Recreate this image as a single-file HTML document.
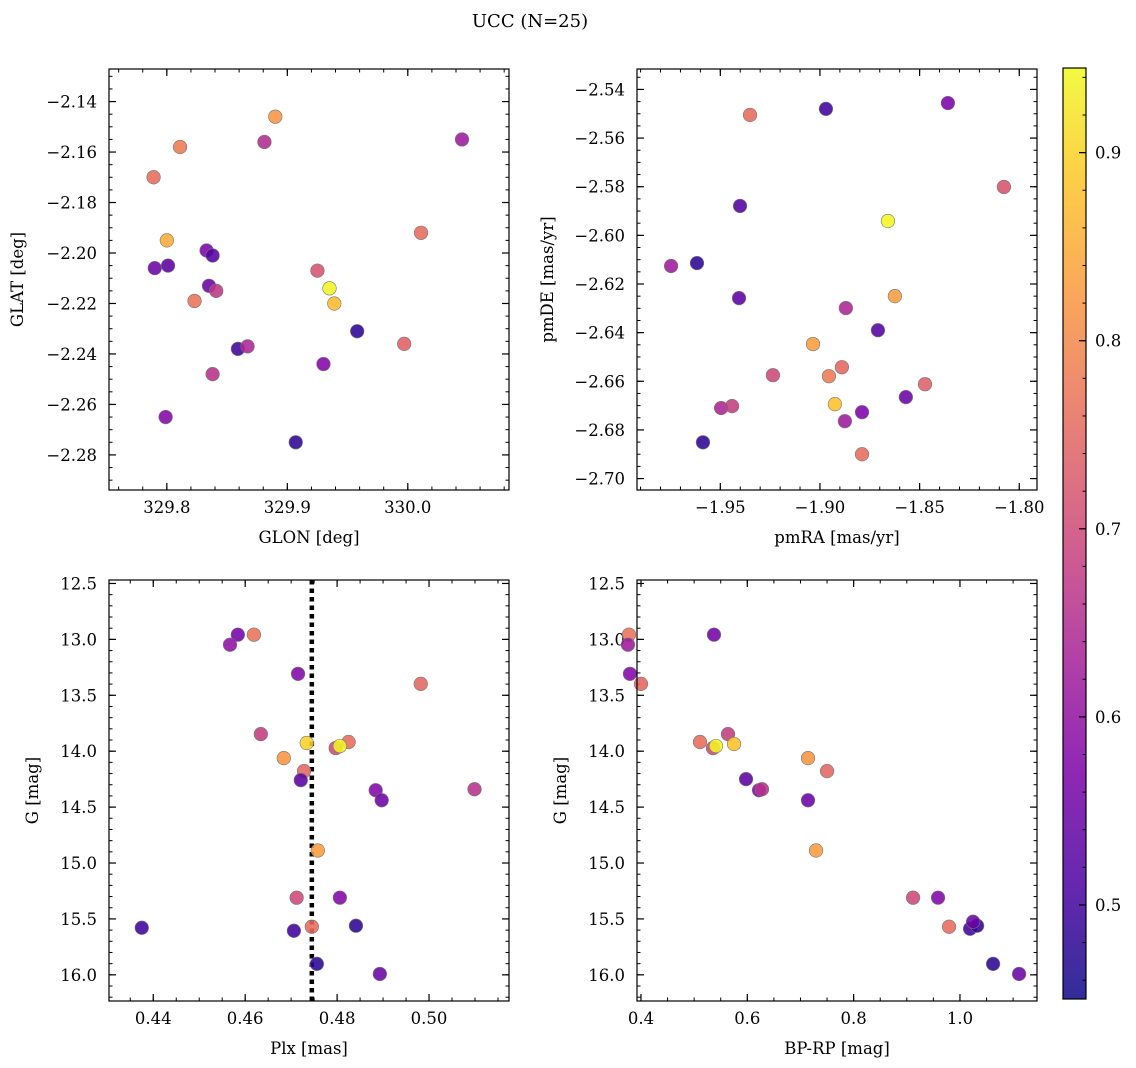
<!DOCTYPE html>
<html><head><meta charset="utf-8">
<style>
html,body{margin:0;padding:0;background:#fff;}
svg{display:block;font-family:"DejaVu Serif","Liberation Serif",serif;}
</style></head>
<body>
<svg id="fig" width="1136" height="1068" viewBox="0 0 1136 1068" xmlns="http://www.w3.org/2000/svg">
<text x="530" y="27" font-size="18" text-anchor="middle">UCC (N=25)</text>
</svg>
<script>
// ---- data: sky position panel ----
const glon = [329.890,329.811,329.881,330.045,329.789,329.800,330.011,329.790,329.801,329.833,329.838,329.925,329.835,329.841,329.823,329.935,329.939,329.958,329.859,329.867,329.997,329.930,329.838,329.799,329.907];
const glat = [-2.146,-2.158,-2.156,-2.155,-2.170,-2.195,-2.192,-2.206,-2.205,-2.199,-2.201,-2.207,-2.213,-2.215,-2.219,-2.214,-2.220,-2.231,-2.238,-2.237,-2.236,-2.244,-2.248,-2.265,-2.275];
const colSky = [0.82,0.78,0.65,0.62,0.76,0.85,0.76,0.55,0.53,0.57,0.52,0.72,0.55,0.67,0.77,0.94,0.87,0.48,0.50,0.64,0.74,0.58,0.66,0.58,0.48];
// ---- data: proper motion panel ----
const pmra = [-1.8358,-1.8970,-1.9351,-1.8077,-1.9401,-1.8659,-1.9747,-1.9617,-1.8624,-1.9406,-1.8870,-1.8709,-1.9035,-1.9236,-1.8955,-1.8890,-1.8473,-1.8569,-1.8925,-1.9496,-1.9441,-1.8789,-1.8875,-1.9587,-1.8789];
const pmde = [-2.5456,-2.5480,-2.5505,-2.5801,-2.5879,-2.5941,-2.6126,-2.6114,-2.6250,-2.6258,-2.6299,-2.6390,-2.6447,-2.6575,-2.6579,-2.6542,-2.6612,-2.6665,-2.6694,-2.6710,-2.6702,-2.6727,-2.6764,-2.6851,-2.6900];
const colPm = [0.57,0.50,0.76,0.72,0.52,0.94,0.62,0.48,0.83,0.53,0.64,0.52,0.83,0.70,0.78,0.75,0.74,0.55,0.88,0.64,0.68,0.57,0.62,0.48,0.76];
// ---- data: parallax panel ----
const plx = [0.4584,0.4619,0.4567,0.4715,0.4982,0.4634,0.4684,0.4734,0.4825,0.4797,0.4806,0.4728,0.4721,0.4884,0.4897,0.5099,0.4758,0.4712,0.4806,0.4706,0.4745,0.4841,0.4375,0.4756,0.4893];
const gPlx = [12.958,12.958,13.048,13.308,13.398,13.847,14.062,13.927,13.918,13.972,13.954,14.178,14.259,14.349,14.439,14.340,14.888,15.310,15.310,15.606,15.570,15.561,15.579,15.902,15.992];
const colPlx = [0.56,0.77,0.60,0.58,0.75,0.68,0.82,0.90,0.76,0.70,0.94,0.75,0.53,0.58,0.55,0.66,0.83,0.70,0.58,0.50,0.76,0.48,0.50,0.48,0.55];
const plxMedian = 0.4745;
// ---- data: CMD panel ----
const bprp = [0.3774,0.3755,0.3793,0.4000,0.5373,0.5110,0.5637,0.5355,0.5411,0.5750,0.5976,0.7142,0.7500,0.6220,0.6276,0.7142,0.7293,0.9118,0.9588,0.9795,1.0190,1.0322,1.0247,1.0623,1.1112];
const gCmd = [12.958,13.048,13.308,13.398,12.958,13.918,13.847,13.972,13.954,13.936,14.250,14.062,14.178,14.349,14.340,14.439,14.888,15.310,15.310,15.570,15.588,15.561,15.525,15.902,15.992];
const colCmd = [0.77,0.62,0.58,0.75,0.56,0.76,0.68,0.70,0.94,0.88,0.53,0.82,0.75,0.58,0.66,0.55,0.83,0.70,0.58,0.76,0.50,0.48,0.55,0.48,0.55];
// ---- tick labels ----
const ticksGlon = [329.8,329.9,330.0];
const ticksGlat = [-2.14,-2.16,-2.18,-2.20,-2.22,-2.24,-2.26,-2.28];
const ticksPmra = [-1.95,-1.90,-1.85,-1.80];
const ticksPmde = [-2.54,-2.56,-2.58,-2.60,-2.62,-2.64,-2.66,-2.68,-2.70];
const ticksPlx = [0.44,0.46,0.48,0.50];
const ticksG = [12.5,13.0,13.5,14.0,14.5,15.0,15.5,16.0];
const ticksBprp = [0.4,0.6,0.8,1.0];
const ticksCbar = [0.5,0.6,0.7,0.8,0.9];
const cMin = 0.45, cMax = 0.945;

const NS="http://www.w3.org/2000/svg";
const svg=document.getElementById('fig');
function mk(tag,attrs,parent){const e=document.createElementNS(NS,tag);for(const k in attrs)e.setAttribute(k,attrs[k]);(parent||svg).appendChild(e);return e;}
const plasmaStops=[[13,8,135],[76,2,161],[126,3,168],[168,34,150],[204,71,120],[230,108,92],[248,149,64],[253,195,40],[240,249,33]];
function plasma(t){t=Math.max(0,Math.min(1,t));const s=t*(plasmaStops.length-1);const i=Math.min(Math.floor(s),plasmaStops.length-2);const f=s-i;const a=plasmaStops[i],b=plasmaStops[i+1];return 'rgb('+[0,1,2].map(k=>Math.round(a[k]+(b[k]-a[k])*f)).join(',')+')';}
function cval(c){return plasma((c-cMin)/(cMax-cMin));}
function fmt(v,d){return v.toFixed(d).replace('-','\u2212');}

function panel(o){
  const g=mk('g',{});
  
  
  const X=v=>o.x0+(v-o.xd[0])/(o.xd[1]-o.xd[0])*(o.x1-o.x0);
  const Y=v=>o.y1-(v-o.yd[0])/(o.yd[1]-o.yd[0])*(o.y1-o.y0);
  const lo=Math.ceil(o.xd[0]/o.xm-1e-6), hi=Math.floor(o.xd[1]/o.xm+1e-6);
  for(let k=lo;k<=hi;k++){const px=X(k*o.xm);mk('line',{x1:px,x2:px,y1:o.y1,y2:o.y1-3.5,stroke:'#000','stroke-width':1},g);mk('line',{x1:px,x2:px,y1:o.y0,y2:o.y0+3.5,stroke:'#000','stroke-width':1},g);}
  const ylo=Math.ceil(Math.min(...o.yd)/o.ym-1e-6), yhi=Math.floor(Math.max(...o.yd)/o.ym+1e-6);
  for(let k=ylo;k<=yhi;k++){const py=Y(k*o.ym);mk('line',{x1:o.x0,x2:o.x0+3.5,y1:py,y2:py,stroke:'#000','stroke-width':1},g);mk('line',{x1:o.x1,x2:o.x1-3.5,y1:py,y2:py,stroke:'#000','stroke-width':1},g);}
  o.xt.forEach(v=>{const px=X(v);
    mk('line',{x1:px,x2:px,y1:o.y1,y2:o.y1-7,stroke:'#000','stroke-width':1.2},g);
    mk('line',{x1:px,x2:px,y1:o.y0,y2:o.y0+7,stroke:'#000','stroke-width':1.2},g);
    const t=mk('text',{x:px,y:o.y1+23,'font-size':16.5,'text-anchor':'middle'},g);t.textContent=fmt(v,o.xdec);
    
    });
  o.yt.forEach(v=>{const py=Y(v);
    mk('line',{x1:o.x0,x2:o.x0+7,y1:py,y2:py,stroke:'#000','stroke-width':1.2},g);
    mk('line',{x1:o.x1,x2:o.x1-7,y1:py,y2:py,stroke:'#000','stroke-width':1.2},g);
    const t=mk('text',{x:o.x0-12,y:py+6,'font-size':16.5,'text-anchor':'end'},g);t.textContent=fmt(v,o.ydec);
    
    });
  if(o.vline!==undefined){const l=mk('line',{x1:X(o.vline),x2:X(o.vline),y1:o.y0,y2:o.y1,stroke:'#000','stroke-width':4.5,'stroke-dasharray':'4.5,4'},g);
    
    }
  o.xs.forEach((v,i)=>{const c=mk('circle',{cx:X(v),cy:Y(o.ys[i]),r:6.8,fill:cval(o.cs[i]),'fill-opacity':0.88,stroke:'#777','stroke-width':0.6},g);
    
    });
  mk('rect',{x:o.x0,y:o.y0,width:o.x1-o.x0,height:o.y1-o.y0,fill:'none',stroke:'#000','stroke-width':1.2},g);
  const xl=mk('text',{x:(o.x0+o.x1)/2,y:o.y1+53,'font-size':16.5,'text-anchor':'middle'},g);xl.textContent=o.xl;
  
  
  const yx=o.ylx, yy=(o.y0+o.y1)/2;
  const yl=mk('text',{x:yx,y:yy,'font-size':16.5,'text-anchor':'middle',transform:`rotate(-90 ${yx} ${yy})`},g);yl.textContent=o.yl;
  
  
}
panel({name:'sky-panel',x0:109,x1:509,y0:69,y1:490,xd:[329.752,330.084],yd:[-2.2939,-2.1271],xs:glon,ys:glat,cs:colSky,xt:ticksGlon,yt:ticksGlat,xm:0.02,ym:0.005,xdec:1,ydec:2,xl:'GLON [deg]',yl:'GLAT [deg]',ylx:23});
panel({name:'pm-panel',x0:637,x1:1037,y0:69,y1:490,xd:[-1.9918,-1.7911],yd:[-2.7047,-2.5316],xs:pmra,ys:pmde,cs:colPm,xt:ticksPmra,yt:ticksPmde,xm:0.01,ym:0.005,xdec:2,ydec:2,xl:'pmRA [mas/yr]',yl:'pmDE [mas/yr]',ylx:553});
panel({name:'plx-panel',x0:109,x1:509,y0:580,y1:1001,xd:[0.43037,0.5174],yd:[16.234,12.469],xs:plx,ys:gPlx,cs:colPlx,xt:ticksPlx,yt:ticksG,xm:0.005,ym:0.1,xdec:2,ydec:1,xl:'Plx [mas]',yl:'G [mag]',ylx:38,vline:plxMedian});
panel({name:'cmd-panel',x0:637,x1:1037,y0:580,y1:1001,xd:[0.3925,1.1449],yd:[16.234,12.469],xs:bprp,ys:gCmd,cs:colCmd,xt:ticksBprp,yt:ticksG,xm:0.05,ym:0.1,xdec:1,ydec:1,xl:'BP-RP [mag]',yl:'G [mag]',ylx:566});

// colorbar
(function(){
  const x0=1063,x1=1086,y0=68,y1=999;
  const g=mk('g',{});
  
  
  const defs=mk('defs',{},g);
  const lg=mk('linearGradient',{id:'cbg',x1:0,y1:1,x2:0,y2:0},defs);
  for(let i=0;i<=16;i++){mk('stop',{offset:i/16,'stop-color':plasma(i/16)},lg);}
  mk('rect',{x:x0,y:y0,width:x1-x0,height:y1-y0,fill:'url(#cbg)','fill-opacity':0.85},g);
  const Y=v=>y1-(v-cMin)/(cMax-cMin)*(y1-y0);
  for(let k=Math.ceil(cMin/0.02);k<=Math.floor(cMax/0.02);k++){const py=Y(k*0.02);mk('line',{x1:x1,x2:x1-3.5,y1:py,y2:py,stroke:'#000','stroke-width':1},g);}
  ticksCbar.forEach(v=>{const py=Y(v);mk('line',{x1:x1,x2:x1-7,y1:py,y2:py,stroke:'#000','stroke-width':1.2},g);
    const t=mk('text',{x:x1+9,y:py+6,'font-size':16.5},g);t.textContent=v.toFixed(1);
    
    });
  mk('rect',{x:x0,y:y0,width:x1-x0,height:y1-y0,fill:'none',stroke:'#000','stroke-width':1.2},g);
})();
</script>
</body></html>
